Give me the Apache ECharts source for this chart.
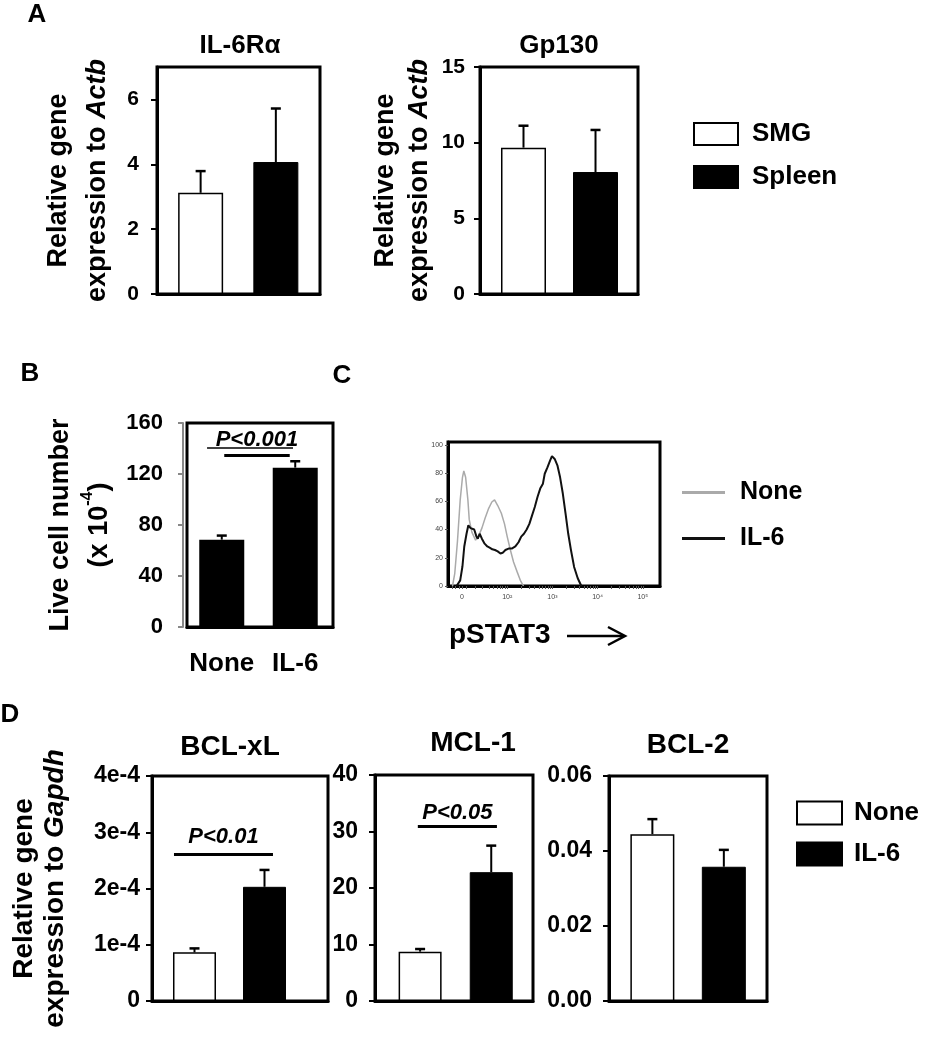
<!DOCTYPE html>
<html><head><meta charset="utf-8">
<script src="https://cdn.jsdelivr.net/npm/echarts@6/dist/echarts.min.js"></script>
<style>html,body{margin:0;padding:0;background:#fff}#c{width:933px;height:1050px}</style>
</head><body><div id="c"></div>
<script>
const FONT = '"Liberation Sans", Arial, Helvetica, sans-serif';

// ---------------- DATA ----------------
// Panel A: relative gene expression to Actb
const aGenes = ['IL-6Rα', 'Gp130'];
const aSMG = [3.12, 9.67];
const aSMGErr = [0.67, 1.45];
const aSpleen = [4.07, 8.06];
const aSpleenErr = [1.65, 2.78];
const aYMax = [7, 15];
const aYStep = [2, 5];

// Panel B: live cell number (x 10^-4)
const bCats = ['None', 'IL-6'];
const bLive = [68.5, 125];
const bLiveErr = [3.2, 5.0];
const bYMax = 160, bYStep = 40;
const bP = 'P<0.001';

// Panel C: pSTAT3 histogram (x in display decades: 1 = "0", 2 = 10², ... 5 = 10⁵)
const cXLabels = ['0', '10²', '10³', '10⁴', '10⁵'];
const cYMax = 102, cYStep = 20;
const cNone = [[0.79,0],[0.84,9],[0.90,32],[0.96,61],[1.01,77],[1.04,81.5],[1.08,77],[1.13,61],[1.16,47],[1.22,38],[1.30,32.5],[1.36,35],[1.44,41],[1.51,48],[1.59,55],[1.66,59.5],[1.72,61],[1.79,57],[1.87,51.5],[1.94,44],[2.00,35],[2.07,25.5],[2.14,17],[2.22,10],[2.29,4],[2.36,0]];
const cIL6 = [[0.88,0],[0.96,4],[1.01,14],[1.05,28],[1.10,37],[1.14,43],[1.19,41],[1.23,41.5],[1.27,40],[1.32,35],[1.35,33.5],[1.39,37],[1.44,33.5],[1.50,30],[1.56,28],[1.62,27],[1.67,26],[1.73,25.5],[1.79,24.5],[1.85,23],[1.90,23.5],[1.96,25.5],[2.03,26.5],[2.10,26.5],[2.18,28],[2.25,31],[2.31,35],[2.37,37],[2.43,40],[2.49,44],[2.55,50],[2.61,56],[2.67,63],[2.73,69],[2.79,72.5],[2.83,79.5],[2.89,84],[2.95,89],[2.99,92],[3.05,90],[3.11,85.5],[3.17,77],[3.23,65.5],[3.29,51.5],[3.35,37],[3.41,25.5],[3.48,13.5],[3.56,5.5],[3.64,0]];

// Panel D: relative gene expression to Gapdh
const dGenes = ['BCL-xL', 'MCL-1', 'BCL-2'];
const dNone = [0.865e-4, 8.73, 0.0445];
const dNoneErr = [0.07e-4, 0.47, 0.0040];
const dIL6 = [2.03e-4, 22.8, 0.0358];
const dIL6Err = [0.30e-4, 4.7, 0.0045];
const dYMax = [4e-4, 40, 0.06];
const dYStep = [1e-4, 10, 0.02];
const dP = ['P<0.01', 'P<0.05', null];

// ---------------- LAYOUT ----------------
const LA = [
  {left:157, top:67, width:163, height:227, xmin:-0.58, xmax:1.587, bw:45, margin:18, fs:21, nameGap:40, lh:39, showMax:false, tx:240, ty:46},
  {left:480, top:67, width:158, height:227, xmin:-0.604, xmax:1.59, bw:45, margin:15, fs:21, nameGap:43, lh:34, showMax:true, tx:559, ty:46}
];
const LB = {left:187, top:423, width:146, height:204, xmin:-0.473, xmax:1.514, bw:45, margin:20, fs:22, nameGap:64, lh:39,
  sig:{x:[0.034, 0.925], y:134.7, dist:4}, ul:{x:[-0.2, 0.97], y:140.4}};
const LC = {left:448, top:442, width:212, height:144, xmin:0.69, xmax:5.38};
const LD = [
  {left:152, top:776, width:176, height:225, xmin:-0.607, xmax:1.907, bw:43, margin:12, fs:23, tx:230, ty:747, sig:{x:[-0.293,1.121], y:2.61e-4, dist:6}},
  {left:375, top:775, width:158, height:226, xmin:-0.634, xmax:1.587, bw:43, margin:17, fs:23, tx:473, ty:743, sig:{x:[-0.032,1.08], y:31.0, dist:2}},
  {left:609, top:776, width:158, height:225, xmin:-0.607, xmax:1.604, bw:44, margin:17, fs:23, tx:688, ty:745}
];
const dFmt = [v => v === 0 ? '0' : Math.round(v * 1e4) + 'e-4', v => String(v), v => v.toFixed(2)];

// ---------------- BUILD ----------------
const grids = [], xAxes = [], yAxes = [], series = [], graphics = [];

function txt(s, x, y, size, extra) {
  graphics.push({type:'text', x, y, silent:true, style:Object.assign({
    text:s, font:`bold ${size}px ${FONT}`, fill:'#000',
    textAlign:'center', textVerticalAlign:'middle', align:'center', verticalAlign:'middle'}, extra || {})});
}

function errorBarRender(params, api) {
  const x = api.value(0), m = api.value(1), e = api.value(2);
  const a = api.coord([x, m]), b = api.coord([x, m + e]);
  const half = 5;
  return {type:'group', children:[
    {type:'line', shape:{x1:a[0], y1:a[1], x2:b[0], y2:b[1]}, style:{stroke:'#000', lineWidth:2}},
    {type:'line', shape:{x1:b[0]-half, y1:b[1], x2:b[0]+half, y2:b[1]}, style:{stroke:'#000', lineWidth:2.5}}
  ]};
}
function errSeries(gi, data) {
  series.push({type:'custom', name:'err' + series.length, xAxisIndex:gi, yAxisIndex:gi, z:5, silent:true,
    renderItem:errorBarRender, data, encode:{x:0, y:1}, clip:false});
}
function richName(size, lh) {
  const base = {fontFamily:FONT, fontWeight:'bold', fontSize:size, lineHeight:lh, color:'#000'};
  return {fontFamily:FONT, fontWeight:'bold', fontSize:size, color:'#000', rich:{
    n: base, i: Object.assign({}, base, {fontStyle:'italic'}),
    s: {fontFamily:FONT, fontWeight:'bold', fontSize:Math.round(size*0.6), lineHeight:lh, verticalAlign:'top', color:'#000'}
  }};
}
function panel(p, ymax, ystep, fmt, name, nameSize, extraX, extraY) {
  const gi = grids.length;
  grids.push({left:p.left, top:p.top, width:p.width, height:p.height, show:true, borderColor:'#000', borderWidth:3});
  xAxes.push(Object.assign({type:'value', gridIndex:gi, min:p.xmin, max:p.xmax,
    axisLine:{show:true, onZero:false, lineStyle:{color:'#000', width:3}},
    axisTick:{show:false}, axisLabel:{show:false}, splitLine:{show:false}}, extraX || {}));
  yAxes.push(Object.assign({type:'value', gridIndex:gi, min:0, max:ymax, interval:ystep,
    axisLine:{show:true, onZero:false, lineStyle:{color:'#000', width:3}},
    axisTick:{show:true, length:6, lineStyle:{color:'#000', width:2}},
    splitLine:{show:false},
    axisLabel:{showMaxLabel:p.showMax !== false, margin:p.margin, fontFamily:FONT, fontWeight:'bold', fontSize:p.fs, color:'#000', formatter:fmt},
    name:name, nameLocation:'middle', nameRotate:90, nameGap:p.nameGap || 0,
    nameTextStyle: richName(nameSize, p.lh || 31)}, extraY || {}));
  return gi;
}
function sigLine(p, label, fs) {
  return {symbol:'none', silent:true, animation:false,
    lineStyle:{color:'#000', width:3, type:'solid'},
    label:{show:true, position:'insideMiddleTop', distance:p.sig.dist, formatter:label,
      fontFamily:FONT, fontWeight:'bold', fontStyle:'italic', fontSize:fs, color:'#000'},
    data:[[{coord:[p.sig.x[0], p.sig.y]}, {coord:[p.sig.x[1], p.sig.y]}]]};
}

// Panel A
const actbName = '{n|Relative gene}\n{n|expression to }{i|Actb}';
aGenes.forEach((g, i) => {
  const p = LA[i];
  const gi = panel(p, aYMax[i], aYStep[i], v => String(v), actbName, 27);
  series.push({type:'bar', name:'SMG', xAxisIndex:gi, yAxisIndex:gi, data:[[0, aSMG[i]]], barWidth:p.bw, barGap:'-100%',
    itemStyle:{color:'#fff', borderColor:'#000', borderWidth:1.5}, silent:true});
  series.push({type:'bar', name:'Spleen', xAxisIndex:gi, yAxisIndex:gi, data:[[1, aSpleen[i]]], barWidth:p.bw, barGap:'-100%',
    itemStyle:{color:'#000', borderColor:'#000', borderWidth:1}, silent:true});
  errSeries(gi, [[0, aSMG[i], aSMGErr[i]], [1, aSpleen[i], aSpleenErr[i]]]);
  txt(g, p.tx, p.ty, 26);
});

// Panel B
{
  const p = LB;
  const gi = panel(p, bYMax, bYStep, v => String(v), '{n|Live cell number}\n{n|(x 10}{s|-4}{n|)}', 27,
    {axisLabel:{show:true, customValues:[0, 1], formatter:v => bCats[Math.round(v)], margin:24,
      fontFamily:FONT, fontWeight:'bold', fontSize:26, color:'#000'}},
    {offset:4, axisLine:{show:true, onZero:false, lineStyle:{color:'#888', width:2}}, axisTick:{show:true, length:5, lineStyle:{color:'#888', width:2}}});
  const ml = sigLine(p, bP, 22);
  ml.data.push([{coord:[p.ul.x[0], p.ul.y], lineStyle:{width:1.5}, label:{show:false}}, {coord:[p.ul.x[1], p.ul.y]}]);
  series.push({type:'bar', name:'B', xAxisIndex:gi, yAxisIndex:gi, data:bLive.map((v, k) => [k, v]), barWidth:p.bw,
    itemStyle:{color:'#000'}, silent:true, markLine:ml});
  errSeries(gi, bLive.map((v, k) => [k, v, bLiveErr[k]]));
}

// Panel C
{
  const p = LC, gi = grids.length;
  const minor = [0.78, 0.86, 0.93, 1.1, 1.3, 1.45, 1.6, 1.7, 1.78, 1.85, 1.9, 1.95];
  for (let d = 2; d < 5; d++) for (let k = 2; k < 10; k++) minor.push(d + Math.log10(k));
  grids.push({left:p.left, top:p.top, width:p.width, height:p.height, show:true, borderColor:'#000', borderWidth:3});
  xAxes.push({type:'value', gridIndex:gi, min:p.xmin, max:p.xmax,
    axisLine:{show:true, onZero:false, lineStyle:{color:'#000', width:3}},
    axisTick:{show:true, length:3, customValues:[1,2,3,4,5].concat(minor), lineStyle:{color:'#555', width:1}},
    axisLabel:{show:true, customValues:[1,2,3,4,5], formatter:v => cXLabels[Math.round(v) - 1], margin:8,
      fontFamily:FONT, fontSize:7, color:'#444'},
    splitLine:{show:false}});
  yAxes.push({type:'value', gridIndex:gi, min:0, max:cYMax, interval:cYStep,
    axisLine:{show:true, onZero:false, lineStyle:{color:'#000', width:3}},
    axisTick:{show:true, length:3, lineStyle:{color:'#555', width:1}},
    axisLabel:{showMaxLabel:false, margin:5, fontFamily:FONT, fontSize:7, color:'#444'},
    splitLine:{show:false}});
  series.push({type:'line', name:'C:None', xAxisIndex:gi, yAxisIndex:gi, data:cNone, symbol:'none', showSymbol:false,
    lineStyle:{color:'#aaa', width:1.5}, itemStyle:{color:'#aaa'}, silent:true, z:2});
  series.push({type:'line', name:'C:IL-6', xAxisIndex:gi, yAxisIndex:gi, data:cIL6, symbol:'none', showSymbol:false,
    lineStyle:{color:'#111', width:2}, itemStyle:{color:'#111'}, silent:true, z:3});
  txt('pSTAT3', 449, 635, 28, {textAlign:'left', align:'left'});
  graphics.push({type:'line', silent:true, shape:{x1:567, y1:636, x2:624, y2:636}, style:{stroke:'#000', lineWidth:2.5}});
  graphics.push({type:'polyline', silent:true, shape:{points:[[608,627],[625,636],[608,645]]}, style:{stroke:'#000', lineWidth:2.5, fill:null}});
}

// Panel D
const gapdhName = '{n|Relative gene}\n{n|expression to }{i|Gapdh}';
dGenes.forEach((g, i) => {
  const p = LD[i];
  const first = i === 0;
  const gi = panel(Object.assign({}, p, {nameGap:81, lh:31}), dYMax[i], dYStep[i], dFmt[i], first ? gapdhName : '', 28);
  series.push({type:'bar', name:'D:None', xAxisIndex:gi, yAxisIndex:gi, data:[[0, dNone[i]]], barWidth:p.bw, barGap:'-100%',
    itemStyle:{color:'#fff', borderColor:'#000', borderWidth:1.5}, silent:true});
  const blk = {type:'bar', name:'D:IL-6', xAxisIndex:gi, yAxisIndex:gi, data:[[1, dIL6[i]]], barWidth:p.bw, barGap:'-100%',
    itemStyle:{color:'#000', borderColor:'#000', borderWidth:1}, silent:true};
  if (dP[i]) blk.markLine = sigLine(p, dP[i], 22);
  series.push(blk);
  errSeries(gi, [[0, dNone[i], dNoneErr[i]], [1, dIL6[i], dIL6Err[i]]]);
  txt(g, p.tx, p.ty, 28);
});

// Panel letters
txt('A', 37, 15, 26);
txt('B', 30, 374, 26);
txt('C', 342, 376, 26);
txt('D', 10, 715, 26);

const legendText = (pad) => ({fontFamily:FONT, fontWeight:'bold', fontSize:26, color:'#000', padding:[0,0,0,pad]});
const option = {
  animation:false,
  backgroundColor:'#fff',
  grid:grids, xAxis:xAxes, yAxis:yAxes, series, graphic:graphics,
  legend:[
    {data:['SMG','Spleen'], orient:'vertical', left:693, top:121, icon:'rect', itemWidth:44, itemHeight:22, itemGap:17,
      padding:0, selectedMode:false, itemStyle:{borderWidth:2}, textStyle:Object.assign(legendText(9), {lineHeight:22})},
    {data:['C:None','C:IL-6'], orient:'vertical', left:682, top:480, icon:'rect', itemWidth:43, itemHeight:3, itemGap:21,
      padding:0, selectedMode:false, formatter:n => n.replace(/^[A-Z]:/, ''),
      textStyle:Object.assign(legendText(10), {lineHeight:20, fontSize:25})},
    {data:['D:None','D:IL-6'], orient:'vertical', left:796, top:800, icon:'rect', itemWidth:45, itemHeight:23, itemGap:15,
      padding:0, selectedMode:false, itemStyle:{borderWidth:2}, formatter:n => n.replace(/^[A-Z]:/, ''),
      textStyle:Object.assign(legendText(7), {lineHeight:23})}
  ]
};
const chart = echarts.init(document.getElementById('c'), null, {renderer:'canvas'});
chart.setOption(option);
</script></body></html>
